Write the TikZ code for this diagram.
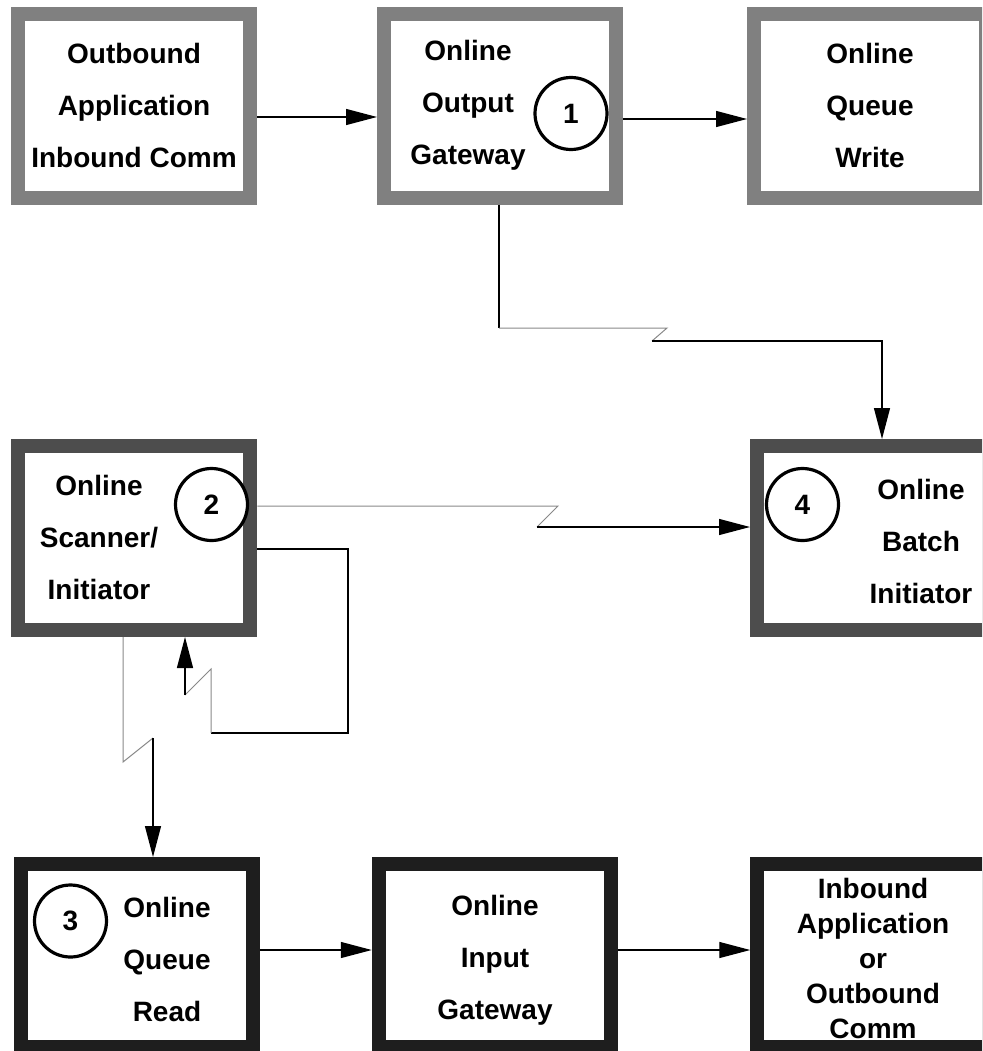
\documentclass[tikz,border=0pt]{standalone}
\usepackage{fontspec}
\setmainfont{Liberation Sans}
\usetikzlibrary{arrows.meta}
\definecolor{gA}{HTML}{808080}
\definecolor{gB}{HTML}{4D4D4D}
\definecolor{gC}{HTML}{1E1E1E}
\definecolor{zz}{HTML}{888888}
\begin{document}
\begin{tikzpicture}[x=1pt,y=-1pt,
 box/.style={draw,line width=14pt,fill=white,minimum width=232pt,minimum height=184pt,inner sep=0pt},
 lbl/.style={font=\fontsize{28}{52}\selectfont\bfseries,align=center,inner sep=0pt},
 lbltight/.style={font=\fontsize{28}{35}\selectfont\bfseries,align=center,inner sep=0pt},
 num/.style={circle,draw=black,line width=3.2pt,fill=white,minimum size=72pt,inner sep=0pt,font=\fontsize{28}{30}\selectfont\bfseries},
 conn/.style={line width=1.3pt,black},
 zig/.style={line width=1pt,zz},
 tip/.style={-{Triangle[length=31pt,width=16pt]}}]
\useasboundingbox (0,0) rectangle (982,1051);
\clip (0,0) rectangle (982,1051);

% boxes
\node[box,draw=gA] (b1) at (134.25,105.75) {};
\node[box,draw=gA] (b2) at (500,105.75) {};
\node[box,draw=gA] (b3) at (870,105.75) {};
\node[box,draw=gB] (b4) at (134.25,538) {};
\node[box,draw=gB] (b5) at (873,538) {};
\node[box,draw=gC,minimum height=183pt] (b6) at (136.75,955.5) {};
\node[box,draw=gC,minimum height=183pt] (b7) at (494.75,955.5) {};
\node[box,draw=gC,minimum height=183pt] (b8) at (873.25,955.5) {};

% labels
\node[lbl] (t1) at (134,105) {Outbound\\Application\\Inbound Comm};
\node[lbl] (t2) at (468,105) {Online\\Output\\Gateway};
\node[lbl] (t3) at (870,105) {Online\\Queue\\Write};
\node[lbl] (t4) at (99,537) {Online\\Scanner/\\Initiator};
\node[lbl] (t5) at (921,541) {Online\\Batch\\Initiator};
\node[lbl] (t6) at (167,959) {Online\\Queue\\Read};
\node[lbl] (t7) at (495,960) {Online\\Input\\Gateway};
\node[lbltight] (t8) at (873,958) {Inbound\\Application\\or\\Outbound\\Comm};

% numbered circles
\node[num] (c1) at (571,113.5) {1};
\node[num] (c2) at (211.5,504.5) {2};
\node[num] (c4) at (802.5,504.5) {4};
\node[num] (c3) at (70.5,921) {3};

% straight arrows
\draw[conn,tip] ([yshift=-11.25pt]b1.east) -- ([yshift=-11.25pt]b2.west);
\draw[conn,tip] ([yshift=-13.25pt]b2.east) -- ([yshift=-13.25pt]b3.west);
\draw[conn,tip] ([yshift=5.5pt]b6.east) -- ([yshift=5.5pt]b7.west);
\draw[conn,tip] ([yshift=5.5pt]b7.east) -- ([yshift=5.5pt]b8.west);

% connector b2 -> b5 with break
\coordinate (a1) at (499,328);
\coordinate (a2) at (667,328);
\coordinate (a3) at (652,341);
\coordinate (a4) at (882,341);
\draw[conn] (b2.south -| a1) -- (a1);
\draw[zig] (a1) -- (a2) -- (a3);
\draw[conn,tip] (a3) -- (a4) -- (a4 |- b5.north);

% connector b4 -> b5 with break
\coordinate (z1) at (558,506);
\coordinate (z2) at (537,527);
\draw[zig] (b4.east |- z1) -- (z1) -- (z2);
\draw[conn,tip] (z2) -- (z2 -| b5.west);

% loop b4 -> b4
\coordinate (l1) at (348,549);
\coordinate (l2) at (348,733);
\coordinate (l3) at (211,733);
\coordinate (l4) at (211,669);
\coordinate (l5) at (185,695);
\draw[conn] (b4.east |- l1) -- (l1) -- (l2) -- (l3);
\draw[zig] (l3) -- (l4) -- (l5);
\draw[conn,tip] (l5) -- (l5 |- b4.south);

% connector b4 -> b6 with break
\coordinate (d1) at (123,762);
\coordinate (d2) at (153,738);
\draw[zig] (b4.south -| d1) -- (d1) -- (d2);
\draw[conn,tip] (d2) -- (d2 |- b6.north);
\end{tikzpicture}
\end{document}
